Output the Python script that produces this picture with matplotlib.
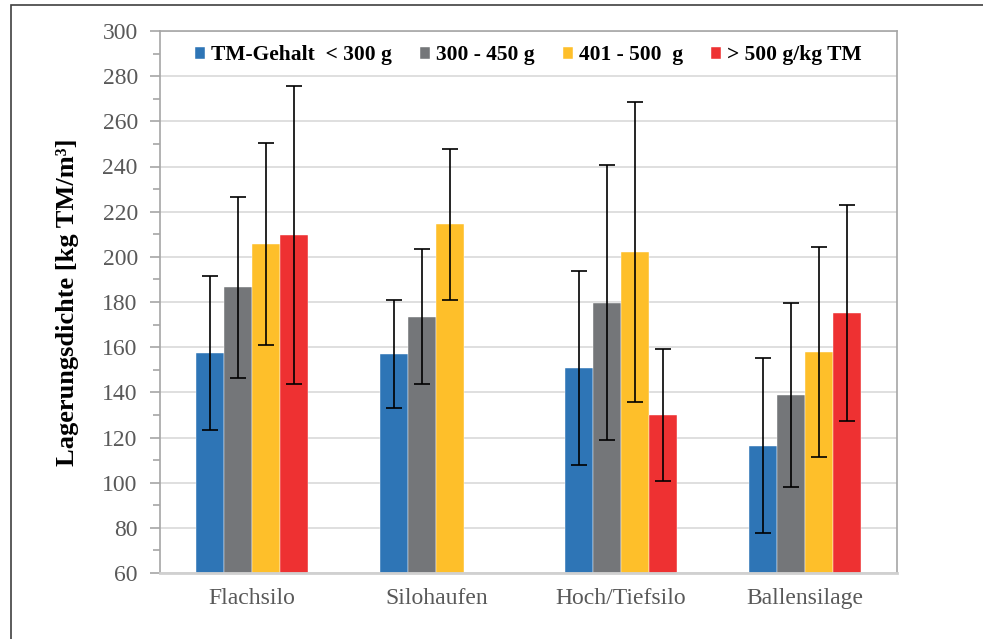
import numpy as np
import matplotlib
matplotlib.use("Agg")
import matplotlib.pyplot as plt
from matplotlib.patches import Rectangle
from matplotlib.ticker import MultipleLocator

plt.rcParams['font.family'] = ['Liberation Serif', 'DejaVu Serif']

# data
categories = ['Flachsilo', 'Silohaufen', 'Hoch/Tiefsilo', 'Ballensilage']
series_labels = ['TM-Gehalt  < 300 g', '300 - 450 g', '401 - 500  g', '> 500 g/kg TM']
means = [
    [157.3, 156.9, 150.8, 116.4],
    [186.5, 173.5, 179.7, 138.8],
    [205.6, 214.4, 202.2, 158.0],
    [209.7, np.nan, 130.1, 175.3],
]
sds = [
    [34.1, 23.8, 43.0, 38.8],
    [40.2, 30.0, 60.9, 40.8],
    [44.7, 33.5, 66.5, 46.5],
    [65.9, np.nan, 29.3, 47.8],
]
colors = ['#2E75B6', '#747679', '#FEBF2A', '#EE3132']

fig = plt.figure(figsize=(9.83, 6.39), dpi=100)
ax = fig.add_axes([160 / 983, 1 - 573 / 639, (897 - 160) / 983, (573 - 31) / 639])

# outer frame of the figure
fig.patches.append(Rectangle((11 / 983, -0.1), 1.1, (639 - 5) / 639 + 0.1,
                             transform=fig.transFigure, fill=False,
                             edgecolor='#404040', linewidth=1.2, zorder=0))

x = np.arange(len(categories))
width = 0.152
for i, (m, s, c, lab) in enumerate(zip(means, sds, colors, series_labels)):
    pos = x + (i - 1.5) * width
    ax.bar(pos, np.array(m) - 60, width, bottom=60, color=c, label=lab,
           edgecolor='white', linewidth=0.3, zorder=2)
    ax.errorbar(pos, m, yerr=s, fmt='none', ecolor='black', elinewidth=1.2,
                capsize=6, capthick=1.2, zorder=3)

ax.set_ylim(60, 300)
ax.set_xlim(-0.5, len(categories) - 0.5)
ax.yaxis.set_major_locator(MultipleLocator(20))
ax.yaxis.set_minor_locator(MultipleLocator(10))
ax.grid(axis='y', which='major', color='#d9d9d9', linewidth=1.2, zorder=0)
ax.set_axisbelow(True)

ax.set_xticks(x)
ax.set_xticklabels(categories)
ax.tick_params(axis='x', length=0, pad=11, labelsize=17, labelcolor='#595959')
ax.tick_params(axis='y', which='major', length=7, width=1.2, color='#a6a6a6',
               labelsize=17, labelcolor='#595959', pad=9)
ax.tick_params(axis='y', which='minor', length=5, width=1.2, color='#a6a6a6')

for side in ['left', 'right', 'top']:
    ax.spines[side].set_color('#a6a6a6')
    ax.spines[side].set_linewidth(1.2)
ax.spines['bottom'].set_color('#d0d0d0')
ax.spines['bottom'].set_linewidth(2)

ax.set_ylabel('Lagerungsdichte [kg TM/m³]', fontsize=19, fontweight='bold',
              color='black', labelpad=17)

ax.legend(loc='center', bbox_to_anchor=(0.5, 0.955), ncol=4, frameon=False,
          prop={'size': 15.5, 'weight': 'bold'}, handlelength=0.47,
          handleheight=0.47, handletextpad=0.28, columnspacing=1.3)

fig.savefig('out.png', dpi=100)
